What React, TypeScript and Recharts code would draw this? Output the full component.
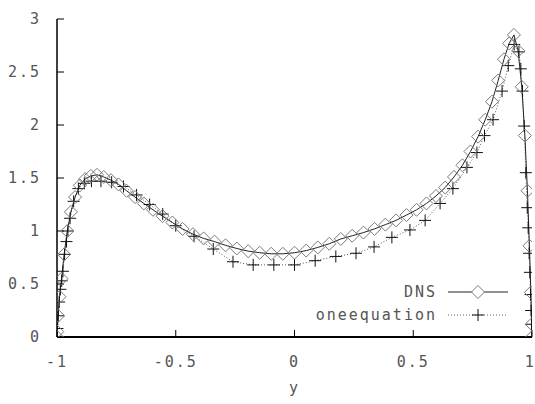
import { Legend, Line, LineChart, XAxis, YAxis } from "recharts";

const dnsY = [
  -1, -0.9988, -0.9952, -0.9892, -0.9808, -0.97, -0.9569, -0.9415, -0.9239, -0.904, -0.8819,
  -0.8577, -0.8315, -0.8032, -0.773, -0.741, -0.7071, -0.6716, -0.6344, -0.5957, -0.5556,
  -0.5141, -0.4714, -0.4276, -0.3827, -0.3369, -0.2903, -0.243, -0.1951, -0.1467, -0.098,
  -0.0491, 0, 0.0491, 0.098, 0.1467, 0.1951, 0.243, 0.2903, 0.3369, 0.3827, 0.4276, 0.4714,
  0.5141, 0.5556, 0.5957, 0.6344, 0.6716, 0.7071, 0.741, 0.773, 0.8032, 0.8315, 0.8577,
  0.8819, 0.904, 0.9239, 0.9415, 0.9569, 0.97, 0.9808, 0.9892, 0.9952, 0.9988, 1,
];
const dnsValues = [
  0, 0.05, 0.2, 0.38, 0.55, 0.78, 1.0, 1.18, 1.32, 1.43, 1.49, 1.52, 1.53, 1.51, 1.48, 1.44,
  1.38, 1.32, 1.26, 1.2, 1.14, 1.08, 1.02, 0.97, 0.93, 0.9, 0.865, 0.835, 0.81, 0.795, 0.785,
  0.785, 0.795, 0.815, 0.845, 0.88, 0.925, 0.955, 0.985, 1.02, 1.06, 1.1, 1.15, 1.2, 1.26,
  1.33, 1.41, 1.51, 1.62, 1.75, 1.89, 2.05, 2.22, 2.42, 2.62, 2.77, 2.85, 2.7, 2.36, 1.9,
  1.38, 0.86, 0.42, 0.12, 0,
];

const oneY = [
  -1, -0.998, -0.995, -0.991, -0.986, -0.98, -0.975, -0.968, -0.96, -0.954, -0.945, -0.93,
  -0.91, -0.885, -0.855, -0.815, -0.77, -0.72, -0.665, -0.61, -0.555, -0.5, -0.423, -0.342,
  -0.259, -0.174, -0.087, 0, 0.087, 0.174, 0.259, 0.335, 0.41, 0.486, 0.55, 0.613, 0.667,
  0.726, 0.768, 0.8, 0.836, 0.874, 0.9, 0.925, 0.945, 0.953, 0.96, 0.967, 0.974, 0.98, 0.984,
  0.988, 0.991, 0.994, 0.996, 0.998, 1,
];
const oneValues = [
  0, 0.08, 0.2, 0.33, 0.45, 0.53, 0.62, 0.78, 0.9, 1.0, 1.12, 1.28, 1.4, 1.45, 1.47, 1.47,
  1.46, 1.42, 1.34, 1.25, 1.16, 1.05, 0.95, 0.83, 0.71, 0.68, 0.68, 0.68, 0.72, 0.76, 0.79,
  0.85, 0.94, 1.01, 1.1, 1.26, 1.4, 1.6, 1.74, 1.9, 2.05, 2.32, 2.56, 2.76, 2.69, 2.53, 2.32,
  1.99, 1.55, 1.22, 1.03, 0.79, 0.61, 0.4, 0.25, 0.12, 0,
];

const xTicks = [-1, -0.5, 0, 0.5, 1];
const yTicks = [0, 0.5, 1, 1.5, 2, 2.5, 3];
const seriesNames = ["DNS", "oneequation"];

const dnsData = dnsY.map((y, i) => ({ y, v: dnsValues[i] }));
const oneData = oneY.map((y, i) => ({ y, v: oneValues[i] }));

const font = { fontFamily: "DejaVu Sans Mono", fontSize: 15, fill: "#555", letterSpacing: 2 };
// invisible labels so the mirror axes only draw their inward tick marks
const hiddenTick = { fontSize: 0, fill: "none" };

function diamondPath(cx: number, cy: number) {
  return `M${cx},${cy - 6.5}L${cx + 6.5},${cy}L${cx},${cy + 6.5}L${cx - 6.5},${cy}Z`;
}

function plusPath(cx: number, cy: number) {
  return `M${cx - 6},${cy}H${cx + 6}M${cx},${cy - 6}V${cy + 6}`;
}

function Diamond(props: any) {
  const { cx, cy, index } = props;
  if (cx == null || cy == null) return <g key={`d${index}`} />;
  return <path key={`d${index}`} d={diamondPath(cx, cy)} fill="none" stroke="#7a7a7a" />;
}

function Plus(props: any) {
  const { cx, cy, index } = props;
  if (cx == null || cy == null) return <g key={`p${index}`} />;
  return <path key={`p${index}`} d={plusPath(cx, cy)} fill="none" stroke="#111" />;
}

const renderLegend = () => (
  <svg width={535} height={46}>
    {seriesNames.map((name, i) => {
      const cy = 12 + i * 23;
      return (
        <g key={name}>
          <text x={437} y={cy} textAnchor="end" dominantBaseline="central" {...font}>
            {name}
          </text>
          {i === 0 ? (
            <>
              <line x1={448} x2={508} y1={cy} y2={cy} stroke="#222" />
              <path d={diamondPath(478, cy)} fill="#fff" stroke="#7a7a7a" />
            </>
          ) : (
            <>
              <line x1={448} x2={508} y1={cy} y2={cy} stroke="#666" strokeDasharray="1 2" />
              <path d={plusPath(478, cy)} stroke="#111" />
            </>
          )}
        </g>
      );
    })}
  </svg>
);

export default function App() {
  return (
    <div style={{ position: "absolute", left: 0, top: 0, background: "#fff" }}>
      <LineChart width={535} height={404} margin={{ top: 19, right: 3, left: 12, bottom: 27 }}>
        <XAxis
          xAxisId="b"
          dataKey="y"
          type="number"
          domain={[-1, 1]}
          ticks={xTicks}
          allowDataOverflow
          tickSize={-7}
          tickMargin={26}
          height={40}
          axisLine={{ stroke: "#000", strokeWidth: 2 }}
          tickLine={{ stroke: "#000" }}
          tick={font}
          label={{ value: "y", position: "bottom", offset: 5, style: font }}
        />
        <XAxis
          xAxisId="t"
          dataKey="y"
          type="number"
          domain={[-1, 1]}
          ticks={xTicks}
          allowDataOverflow
          orientation="top"
          height={0}
          tick={hiddenTick}
          tickSize={-7}
          axisLine={{ stroke: "#000", strokeWidth: 1.5 }}
          tickLine={{ stroke: "#000" }}
        />
        <YAxis
          yAxisId="l"
          type="number"
          domain={[0, 3]}
          ticks={yTicks}
          allowDataOverflow
          width={45}
          tickSize={-7}
          tickMargin={23}
          axisLine={{ stroke: "#000", strokeWidth: 1.5 }}
          tickLine={{ stroke: "#000" }}
          tick={font}
        />
        <YAxis
          yAxisId="r"
          type="number"
          domain={[0, 3]}
          ticks={yTicks}
          allowDataOverflow
          orientation="right"
          width={0}
          tick={hiddenTick}
          tickSize={-7}
          axisLine={{ stroke: "#000", strokeWidth: 1.5 }}
          tickLine={{ stroke: "#000" }}
        />
        {/* carries the top and right frame axes; draws nothing */}
        <Line
          xAxisId="t"
          yAxisId="r"
          data={dnsData}
          dataKey="v"
          stroke="none"
          dot={false}
          activeDot={false}
          legendType="none"
          isAnimationActive={false}
        />
        <Line
          xAxisId="b"
          yAxisId="l"
          data={oneData}
          dataKey="v"
          name={seriesNames[1]}
          type="linear"
          stroke="#555"
          strokeWidth={1}
          strokeDasharray="1 2"
          dot={Plus}
          activeDot={false}
          isAnimationActive={false}
        />
        <Line
          xAxisId="b"
          yAxisId="l"
          data={dnsData}
          dataKey="v"
          name={seriesNames[0]}
          type="linear"
          stroke="#222"
          strokeWidth={1}
          dot={Diamond}
          activeDot={false}
          isAnimationActive={false}
        />
        <Legend
          layout="horizontal"
          verticalAlign="middle"
          align="center"
          content={renderLegend}
          wrapperStyle={{ top: 280, left: 0, width: 535 }}
        />
      </LineChart>
    </div>
  );
}
